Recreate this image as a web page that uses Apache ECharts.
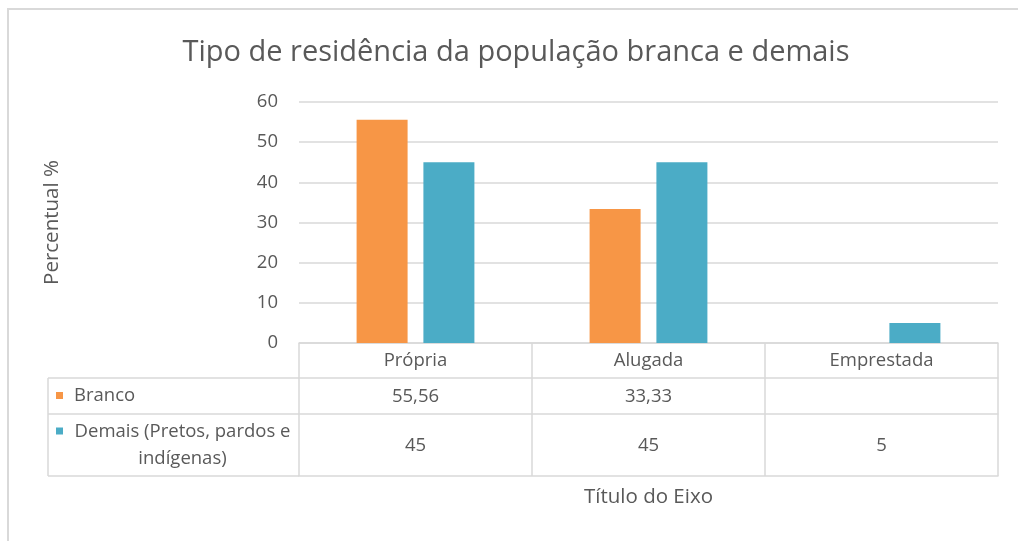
<!DOCTYPE html>
<html>
<head>
<meta charset="utf-8">
<script src="https://cdn.jsdelivr.net/npm/echarts@6/dist/echarts.min.js"></script>
<style>
  html, body { margin: 0; padding: 0; background: #fff; }
  #main { width: 1018px; height: 541px; }
</style>
</head>
<body>
<div id="main"></div>
<script>
// dados
const categories = ['Própria', 'Alugada', 'Emprestada'];
const seriesNames = ['Branco', 'Demais (Pretos, pardos e\nindígenas)'];
const branco = [55.56, 33.33, null];
const demais = [45, 45, 5];
const yMin = 0, yMax = 60, yStep = 10;
const colors = ['#F79646', '#4BACC6'];

const FONT = 'Open Sans';
const TXT = '#595959';
const LINE = '#d9d9d9';
const FS = 18.5;
const GRID = { left: 299, right: 20, top: 102, bottom: 198 };
const ROWS = [35, 71, 133]; // linhas da tabela abaixo do eixo
const TABLE_LEFT = 48;

const fmt = v => (v == null ? '' : String(v).replace('.', ','));

const chart = echarts.init(document.getElementById('main'));

// eixo "de tabela": linha, divisórias verticais e valores
function tableAxis(data, offset, tickLen, margin, extra) {
  return Object.assign({
    type: 'category',
    data: data,
    position: 'bottom',
    offset: offset,
    axisLine: { show: true, lineStyle: { color: LINE, width: 1.5 } },
    axisTick: { show: tickLen > 0, length: tickLen, interval: 0, lineStyle: { color: LINE, width: 1.5 } },
    axisLabel: { interval: 0, margin: margin, color: TXT, fontSize: FS, fontFamily: FONT },
    splitLine: { show: false }
  }, extra || {});
}

chart.setOption({
  animation: false,
  backgroundColor: '#fff',
  title: {
    text: 'Tipo de residência da população branca e demais',
    left: 511, top: 33, textAlign: 'center',
    textStyle: { color: TXT, fontSize: 29, fontWeight: 'normal', fontFamily: FONT }
  },
  grid: GRID,
  xAxis: [
    tableAxis(categories, 0, ROWS[0], 8),
    tableAxis(branco.map(fmt), ROWS[0], ROWS[1] - ROWS[0], 9),
    tableAxis(demais.map(fmt), ROWS[1], ROWS[2] - ROWS[1], 22),
    tableAxis(categories, ROWS[2], 0, 0, {
      axisLabel: { show: false },
      name: 'Título do Eixo', nameLocation: 'middle', nameGap: 11,
      nameTextStyle: { color: TXT, fontSize: 20.5, fontFamily: FONT }
    })
  ],
  yAxis: {
    type: 'value', min: yMin, max: yMax, interval: yStep,
    axisLine: { show: false }, axisTick: { show: false },
    axisLabel: { margin: 21, color: TXT, fontSize: FS, fontFamily: FONT },
    splitLine: { lineStyle: { color: LINE, width: 1.5 } },
    name: 'Percentual %', nameLocation: 'middle', nameRotate: 90, nameGap: 236,
    nameTextStyle: { color: TXT, fontSize: 20.5, fontFamily: FONT }
  },
  series: [
    { name: seriesNames[0], type: 'bar', data: branco, barWidth: 51, barGap: '31%', itemStyle: { color: colors[0] } },
    { name: seriesNames[1], type: 'bar', data: demais, barWidth: 51, barGap: '31%', itemStyle: { color: colors[1] } }
  ]
});

// coluna da legenda à esquerda da tabela + moldura
const y0 = chart.convertToPixel({ yAxisIndex: 0 }, 0);
const x0 = GRID.left;
const ln = (x1, y1, x2, y2, w) => ({
  type: 'line', silent: true,
  shape: { x1, y1, x2, y2 },
  style: { stroke: LINE, lineWidth: w || 1.5 }
});
const graphics = [
  ln(7, 9, chart.getWidth(), 9, 2),
  ln(8, 9, 8, chart.getHeight(), 2),
  ln(TABLE_LEFT, y0 + ROWS[0], x0, y0 + ROWS[0]),
  ln(TABLE_LEFT, y0 + ROWS[1], x0, y0 + ROWS[1]),
  ln(TABLE_LEFT, y0 + ROWS[2], x0, y0 + ROWS[2]),
  ln(TABLE_LEFT, y0 + ROWS[0], TABLE_LEFT, y0 + ROWS[2])
];
const rowMid = [(ROWS[0] + ROWS[1]) / 2, (ROWS[1] + ROWS[2]) / 2];
const lh = 27;
seriesNames.forEach((name, i) => {
  const lines = name.split('\n').length;
  const firstLine = y0 + rowMid[i] - (lines - 1) * lh / 2;
  graphics.push({
    type: 'rect', silent: true,
    shape: { x: TABLE_LEFT + 8, y: firstLine - 4, width: 7, height: 7 },
    style: { fill: colors[i] }
  });
  graphics.push({
    type: 'text', silent: true,
    style: lines > 1 ? {
      text: name, x: (TABLE_LEFT + 26 + x0 - 8) / 2, y: y0 + rowMid[i],
      align: 'center', verticalAlign: 'middle', lineHeight: lh,
      fill: TXT, fontSize: FS, fontFamily: FONT
    } : {
      text: name, x: TABLE_LEFT + 26, y: y0 + rowMid[i],
      align: 'left', verticalAlign: 'middle',
      fill: TXT, fontSize: FS, fontFamily: FONT
    }
  });
});
chart.setOption({ graphic: graphics });

window.addEventListener('resize', () => chart.resize());
</script>
</body>
</html>
